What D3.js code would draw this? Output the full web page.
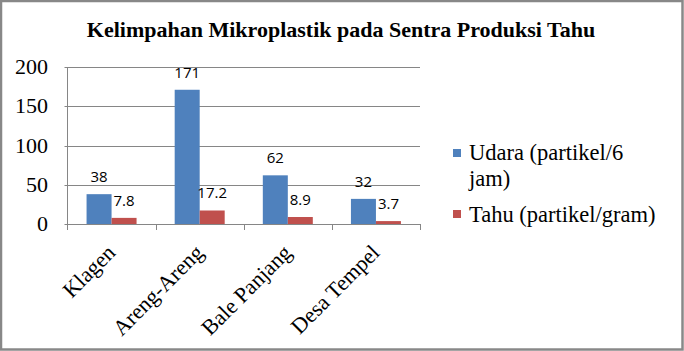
<!DOCTYPE html>
<html>
<head>
<meta charset="utf-8">
<style>
  body { margin: 0; background: #fff; }
  svg { display: block; }
  .serif { font-family: "Liberation Serif", "DejaVu Serif", serif; }
  .lbl { font-family: "Open Sans", "Liberation Sans", sans-serif; font-size: 15px; }
  .grid line { stroke: #868686; stroke-width: 1; }
</style>
</head>
<body>
<script src="https://d3js.org/d3.v7.min.js"></script>
<script>
const categories = ["Klagen", "Areng-Areng", "Bale Panjang", "Desa Tempel"];
const udara = [38, 171, 62, 32];
const tahu = [7.8, 17.2, 8.9, 3.7];
const seriesNames = ["Udara (partikel/6 jam)", "Tahu (partikel/gram)"];
const yTicks = [0, 50, 100, 150, 200];

const width = 684, height = 351;
const plot = {left: 67.5, right: 420, top: 67, bottom: 224};
const colors = ["#4F81BD", "#C0504D"];

const svg = d3.select("body").append("svg")
  .attr("width", width).attr("height", height);

// outer frame
svg.append("rect")
  .attr("x", 1).attr("y", 1)
  .attr("width", 681.5).attr("height", 348.5)
  .attr("fill", "#fff").attr("stroke", "#888").attr("stroke-width", 2.5);

svg.append("text")
  .attr("class", "serif")
  .attr("x", 341).attr("y", 37)
  .attr("text-anchor", "middle")
  .attr("font-weight", "bold")
  .attr("font-size", 22)
  .text("Kelimpahan Mikroplastik pada Sentra Produksi Tahu");

const x = d3.scaleBand().domain(categories).range([plot.left, plot.right]);
const y = d3.scaleLinear().domain([0, 200]).range([plot.bottom, plot.top]);
const barW = 25;

// gridlines
svg.append("g").attr("class", "grid")
  .selectAll("line").data(yTicks).join("line")
  .attr("x1", plot.left - 3).attr("x2", plot.right)
  .attr("y1", d => Math.round(y(d)) + 0.5).attr("y2", d => Math.round(y(d)) + 0.5);

// y axis line
svg.append("line")
  .attr("x1", plot.left).attr("x2", plot.left)
  .attr("y1", plot.top).attr("y2", plot.bottom + 6)
  .attr("stroke", "#868686");

// category ticks
svg.append("g")
  .selectAll("line").data(categories).join("line")
  .attr("x1", d => Math.round(x(d) + x.bandwidth()) + 0.5)
  .attr("x2", d => Math.round(x(d) + x.bandwidth()) + 0.5)
  .attr("y1", plot.bottom).attr("y2", plot.bottom + 6)
  .attr("stroke", "#868686");

// y tick labels
svg.append("g")
  .selectAll("text").data(yTicks).join("text")
  .attr("class", "serif")
  .attr("x", 48).attr("y", d => y(d) + 7)
  .attr("text-anchor", "end")
  .attr("font-size", 22)
  .text(d => d);

// bars
const series = [udara, tahu];
series.forEach((vals, s) => {
  const g = svg.append("g");
  g.selectAll("rect").data(vals).join("rect")
    .attr("x", (d, i) => x(categories[i]) + x.bandwidth() / 2 - barW + s * barW)
    .attr("width", barW)
    .attr("y", d => y(d))
    .attr("height", d => y(0) - y(d))
    .attr("fill", colors[s]);
  g.selectAll("text").data(vals).join("text")
    .attr("class", "lbl")
    .attr("x", (d, i) => x(categories[i]) + x.bandwidth() / 2 - barW / 2 + s * barW)
    .attr("y", d => y(d) - 12)
    .attr("text-anchor", "middle")
    .text(d => d);
});

// x labels
svg.append("g")
  .selectAll("text").data(categories).join("text")
  .attr("class", "serif")
  .attr("font-size", 22)
  .attr("text-anchor", "end")
  .attr("transform", d => `translate(${x(d) + x.bandwidth() / 2 + 5},${plot.bottom + 30}) rotate(-45)`)
  .text(d => d);

// legend
const legend = svg.append("g").attr("class", "serif").attr("font-size", 22.5);
legend.append("rect").attr("x", 453).attr("y", 149).attr("width", 8).attr("height", 8).attr("fill", colors[0]);
legend.append("text").attr("x", 469).attr("y", 160).text("Udara (partikel/6");
legend.append("text").attr("x", 469).attr("y", 186).text("jam)");
legend.append("rect").attr("x", 453).attr("y", 210).attr("width", 8).attr("height", 8).attr("fill", colors[1]);
legend.append("text").attr("x", 469).attr("y", 222).text(seriesNames[1]);
</script>
</body>
</html>
